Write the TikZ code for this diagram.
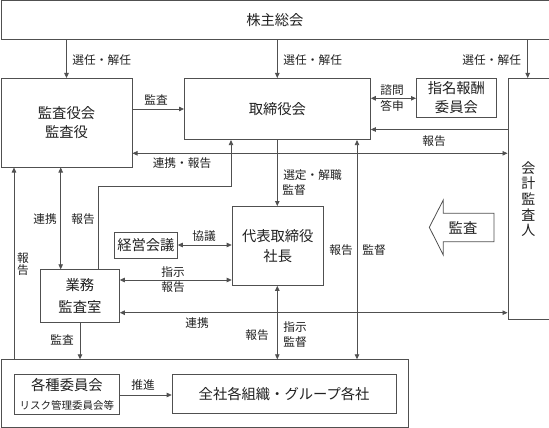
\documentclass[tikz,border=0pt]{standalone}
\usepackage{fontspec}
\setmainfont{Noto Sans CJK JP}
\usetikzlibrary{arrows.meta,calc}
\definecolor{lc}{HTML}{505050}
\definecolor{tc}{HTML}{202020}
\newcommand\mainfs{\fontsize{14.3}{20}\selectfont}
\newcommand\labfs{\fontsize{11.7}{15}\selectfont}
\newcommand\smallfs{\fontsize{10.5}{13}\selectfont}
\begin{document}
\begin{tikzpicture}[x=1pt,y=-1pt]
\tikzset{
  box/.style={draw=lc, line width=0.8pt, inner sep=0pt, anchor=north west, text=tc, align=center, font=\mainfs},
  conn/.style={draw=lc, line width=0.8pt},
  arr/.style={conn, -{Triangle[length=5pt,width=4.5pt]}},
  darr/.style={conn, {Triangle[length=5pt,width=4.5pt]}-{Triangle[length=5pt,width=4.5pt]}},
  lab/.style={text=tc, font=\labfs, inner sep=0pt, align=center},
}
\useasboundingbox (0,0) rectangle (549,428);

% boxes
\node[box, minimum width=548pt, minimum height=39pt] (top) at (0.5,0.5) {株主総会};
\node[box, minimum width=131.2pt, minimum height=88.7pt] (kansa) at (0.5,78) {監査役会\\[-1pt]監査役};
\node[box, minimum width=186pt, minimum height=61.3pt] (tori) at (184,78) {取締役会};
\node[box, minimum width=80pt, minimum height=39pt] (shimei) at (416,78) {指名報酬\\[-1pt]委員会};
\node[box, minimum width=41pt, minimum height=241.3pt, font=\fontsize{14}{15.6}\selectfont] (kaikei) at (507.5,78) {会\\計\\監\\査\\人};
\node[box, minimum width=63pt, minimum height=26pt] (keiei) at (114,232) {経営会議};
\node[box, minimum width=91.3pt, minimum height=79pt] (daihyo) at (231.7,206) {代表取締役\\社長};
\node[box, minimum width=79pt, minimum height=52.4pt] (gyomu) at (40,269.3) {業務\\[1.5pt]監査室};
\node[box, minimum width=407.5pt, minimum height=67.7pt] (frame) at (0.5,359.3) {};
\node[box, minimum width=105pt, minimum height=40pt] (kakushu) at (14,374.3) {各種委員会\\[-1pt]{\smallfs リスク管理委員会等}};
\node[box, minimum width=224pt, minimum height=39pt] (zensha) at (171.7,374.3) {全社各組織・グループ各社};

% coordinates for connector lines
\coordinate (xa) at (66.5,0);
\coordinate (xb) at (277.3,0);
\coordinate (xc) at (527.7,0);
\coordinate (ya) at (0,109);
\coordinate (yb) at (0,98.3);
\coordinate (yc) at (0,129.5);
\coordinate (yd) at (0,153.3);
\coordinate (xd) at (357,0);
\coordinate (g1) at (98.7,186.7);
\coordinate (g2) at (231,186.7);
\coordinate (ye) at (0,245);
\coordinate (yf) at (0,280);
\coordinate (yg) at (0,312.7);
\coordinate (xe) at (60.7,0);
\coordinate (xf) at (14,0);
\coordinate (xg) at (80,0);
\coordinate (xh) at (277.3,0);
\coordinate (yh) at (0,395);

% connectors
\draw[arr] (top.south -| xa) -- (kansa.north -| xa);
\draw[arr] (top.south -| xb) -- (tori.north -| xb);
\draw[arr] (top.south -| xc) -- (kaikei.north -| xc);
\draw[arr] (kansa.east |- ya) -- (tori.west |- ya);
\draw[darr] (tori.east |- yb) -- (shimei.west |- yb);
\draw[arr] (kaikei.west |- yc) -- (tori.east |- yc);
\draw[darr] (kansa.east |- yd) -- (kaikei.west |- yd);
\draw[arr] (tori.south -| xb) -- (daihyo.north -| xb);
\draw[darr] (tori.south -| xd) -- (frame.north -| xd);
\draw[arr] (gyomu.north -| g1) -- (g1) -- (g2) -- (tori.south -| g2);
\draw[darr] (keiei.east |- ye) -- (daihyo.west |- ye);
\draw[darr] (gyomu.east |- yf) -- (daihyo.west |- yf);
\draw[darr] (gyomu.east |- yg) -- (kaikei.west |- yg);
\draw[darr] (kansa.south -| xe) -- (gyomu.north -| xe);
\draw[arr] (frame.north -| xf) -- (kansa.south -| xf);
\draw[arr] (gyomu.south -| xg) -- (frame.north -| xg);
\draw[darr] (daihyo.south -| xh) -- (frame.north -| xh);
\draw[arr] (kakushu.east |- yh) -- (zensha.west |- yh);

% block arrow
\draw[lc, line width=0.8pt, fill=white] (429.3,227.3) -- (443.3,200) -- (443.3,213.3) -- (494,213.3) -- (494,241.7) -- (443.3,241.7) -- (443.3,255) -- cycle;
\node[text=tc, font=\mainfs, inner sep=0pt] (bk) at (463,227.5) {監査};

% labels
\node[lab] (l1) at (101.7,60) {選任・解任};
\node[lab] (l2) at (312.7,60) {選任・解任};
\node[lab] (l3) at (491.7,60) {選任・解任};
\node[lab] (l4) at (156,100) {監査};
\node[lab] (l5) at (392,90) {諮問};
\node[lab] (l6) at (392,106) {答申};
\node[lab] (l7) at (434,141.5) {報告};
\node[lab] (l8) at (182,163) {連携・報告};
\node[lab] (l9) at (312.5,175) {選定・解職};
\node[lab] (l10) at (294,190) {監督};
\node[lab] (l11) at (341,250) {報告};
\node[lab] (l12) at (374,250) {監督};
\node[lab] (l13) at (204,236) {協議};
\node[lab] (l14) at (173,272) {指示};
\node[lab] (l15) at (173,287) {報告};
\node[lab] (l16) at (197,322.7) {連携};
\node[lab] (l17) at (45,219) {連携};
\node[lab] (l18) at (83,219) {報告};
\node[lab, font=\fontsize{11.7}{12.5}\selectfont] (l19) at (23,264) {報\\告};
\node[lab] (l20) at (62,340) {監査};
\node[lab] (l21) at (257,335) {報告};
\node[lab] (l22) at (295,327) {指示};
\node[lab] (l23) at (295,342) {監督};
\node[lab] (l24) at (143,385) {推進};
\end{tikzpicture}
\end{document}
